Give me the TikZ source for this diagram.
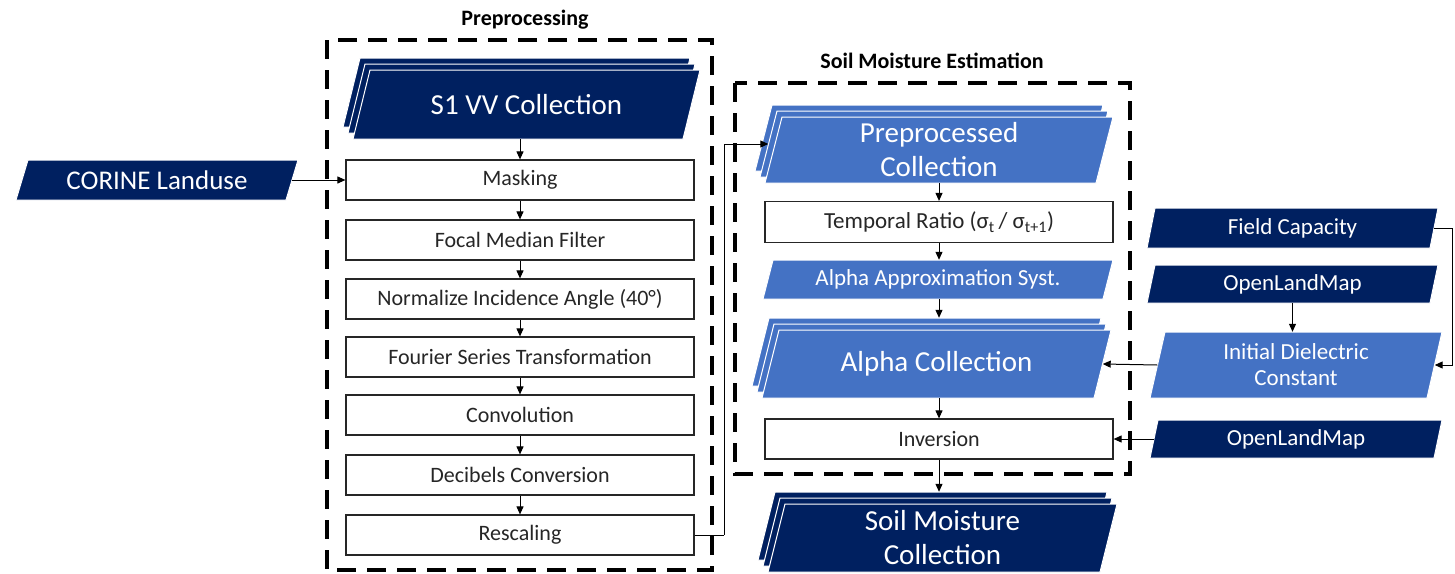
\documentclass[tikz,border=0pt]{standalone}
\usepackage{fontspec}
\setmainfont{Carlito}
\usetikzlibrary{arrows.meta}
\definecolor{navy}{HTML}{002060}
\definecolor{midblue}{HTML}{4472C4}
\definecolor{txtgray}{HTML}{262626}
% parallelogram: cx cy w h color skew
\newcommand\plg[6]{%
  \pgfmathsetmacro\qa{#1-#3/2}\pgfmathsetmacro\qb{#1+#3/2}%
  \pgfmathsetmacro\qc{#2-#4/2}\pgfmathsetmacro\qd{#2+#4/2}%
  \filldraw[fill=#5, draw=white, line width=1pt] (\qa,\qd) -- ({\qa+#6},\qc) -- (\qb,\qc) -- ({\qb-#6},\qd) -- cycle;}
% stack of three parallelograms
\newcommand\stk[6]{%
  \plg{#1-10}{#2-12}{#3}{#4}{#5}{#6}%
  \plg{#1-5}{#2-6}{#3}{#4}{#5}{#6}%
  \plg{#1}{#2}{#3}{#4}{#5}{#6}}
\begin{document}
\begin{tikzpicture}[x=1pt,y=-1pt,
  lbl/.style={rectangle, inner sep=0pt, text=white, align=center},
  proc/.style={rectangle, draw=txtgray, line width=1.2pt, fill=white,
    minimum width=348pt, minimum height=40pt, inner sep=0pt, text=txtgray,
    font=\fontsize{22}{24}\selectfont},
  arr/.style={draw=black, line width=1pt, -{Triangle[length=8pt,width=7pt]}},
  frame/.style={draw=black, line width=4pt, dash pattern=on 19pt off 11pt},
  big/.style={font=\fontsize{29}{34}\selectfont},
  sml/.style={font=\fontsize{23}{26}\selectfont},
  ttl/.style={font=\bfseries\fontsize{22}{24}\selectfont, text=black}
]
\useasboundingbox (0,0) rectangle (1455,573);

% frames
\draw[frame] (327,40) rectangle (712,570);
\draw[frame] (735,83) rectangle (1130,474);
\node[ttl] (tpre) at (525,20) {Preprocessing};
\node[ttl] (tsme) at (932,61) {Soil Moisture Estimation};

% CORINE
\plg{157}{180}{282}{40}{navy}{12}
\node[lbl, font=\fontsize{27}{30}\selectfont, minimum width=270pt, minimum height=40pt] (cor) at (157,180) {CORINE Landuse};

% S1 VV stack
\stk{526.5}{104.5}{347}{69}{navy}{17}
\node[lbl, big, minimum width=330pt, minimum height=69pt] (s1) at (526.5,104.5) {S1 VV Collection};

% process boxes
\node[proc] (mask) at (520,180) {Masking};
\node[proc] (focal) at (520,240) {Focal Median Filter};
\node[proc] (norm) at (520,299) {Normalize Incidence Angle (40°)};
\node[proc] (four) at (520,357) {Fourier Series Transformation};
\node[proc] (conv) at (520,415) {Convolution};
\node[proc] (deci) at (520,475) {Decibels Conversion};
\node[proc] (resc) at (520,535) {Rescaling};

% Preprocessed stack
\stk{939}{150}{348}{66}{midblue}{17}
\node[lbl, minimum width=331pt, minimum height=66pt] (ppm) at (934,144) {};
\node[lbl, big, minimum width=331pt, minimum height=66pt] (pp) at (939,150) {Preprocessed\\Collection};

\node[proc, minimum height=41pt, font=\fontsize{23}{25}\selectfont] (temp) at (939,222) {Temporal Ratio (σ\textsubscript{t}\,/ σ\textsubscript{t+1})};
\plg{938}{279.5}{350}{39}{midblue}{10}
\node[lbl, sml, minimum width=340pt, minimum height=39pt] (aas) at (938,279.5) {Alpha Approximation Syst.};

% Alpha collection stack
\stk{936.5}{364}{349}{68}{midblue}{17}
\node[lbl, minimum width=332pt, minimum height=68pt] (acb) at (926.5,352) {};
\node[lbl, big, minimum width=332pt, minimum height=68pt] (ac) at (936.5,364) {Alpha Collection};

\node[proc] (inv) at (939,439) {Inversion};

% Soil moisture stack
\stk{942.5}{538}{349}{68}{navy}{17}
\node[lbl, minimum width=332pt, minimum height=68pt] (smb) at (932.5,526) {};
\node[lbl, big, minimum width=332pt, minimum height=68pt] (sm) at (942.5,538) {Soil Moisture\\Collection};

% right side
\plg{1292.5}{228}{291}{40}{navy}{8}
\node[lbl, sml, minimum width=283pt, minimum height=40pt] (fc) at (1292.5,228) {Field Capacity};
\plg{1292.5}{284}{291}{38}{navy}{8}
\node[lbl, sml, minimum width=283pt, minimum height=38pt] (olm1) at (1292.5,284) {OpenLandMap};
\plg{1296}{365}{292}{66}{midblue}{15}
\node[lbl, font=\fontsize{23}{26}\selectfont, minimum width=277pt, minimum height=66pt] (idc) at (1296,365) {Initial Dielectric\\Constant};
\plg{1296}{439}{292}{38}{navy}{8}
\node[lbl, sml, minimum width=284pt, minimum height=38pt] (olm2) at (1296,439) {OpenLandMap};

% connectors
\draw[arr] (cor.east) -- (mask.west);
\draw[arr] (s1.south -| mask.north) -- (mask.north);
\draw[arr] (mask) -- (focal);
\draw[arr] (focal) -- (norm);
\draw[arr] (norm) -- (four);
\draw[arr] (four) -- (conv);
\draw[arr] (conv) -- (deci);
\draw[arr] (deci) -- (resc);
\coordinate (rj) at (724,535);
\draw[line width=1pt] (resc.east) -- (rj);
\draw[arr] (rj) |- (ppm.west);
\draw[arr] (pp.south -| temp.north) -- (temp.north);
\draw[arr] (temp.south) -- (temp.south |- aas.north);
\draw[arr] (aas.south -| temp.south) -- (temp.south |- acb.north);
\draw[arr] (ac.south -| inv.north) -- (inv.north);
\draw[arr] (inv.south) -- (inv.south |- smb.north);
\coordinate (fcr) at (1452,228);
\draw[arr] (fc.east) -- (fcr) |- (idc.east);
\draw[arr] (olm1.south) -- (olm1.south |- idc.north);
\draw[arr] (idc.west) -- (ac.east);
\draw[arr] (olm2.west) -- (inv.east);
\end{tikzpicture}
\end{document}
